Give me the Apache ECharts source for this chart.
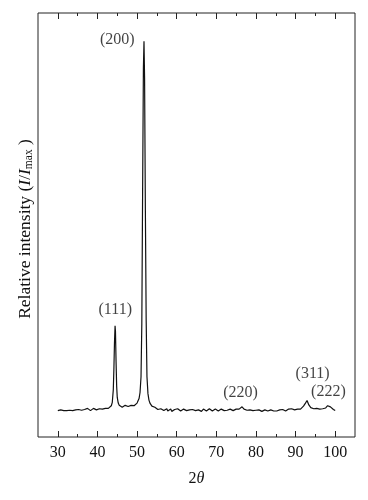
<!DOCTYPE html>
<html>
<head>
<meta charset="utf-8">
<script src="https://cdn.jsdelivr.net/npm/echarts@6/dist/echarts.min.js"></script>
<style>html,body{margin:0;padding:0;background:#fff}#c{width:368px;height:500px}</style>
</head>
<body>
<div id="c"></div>
<script>
// XRD pattern: [2θ (deg), relative intensity (% of Imax)]
const xrd = [
[30.00,2.0],[30.25,2.3],[30.50,1.8],[30.75,2.2],[31.00,1.9],[31.25,2.4],[31.50,2.0],[31.75,1.7],[32.00,2.2],[32.25,2.0],
[32.50,2.5],[32.75,1.9],[33.00,2.1],[33.25,1.8],[33.50,2.3],[33.75,2.0],[34.00,2.4],[34.25,1.9],[34.50,2.2],[34.75,2.6],
[35.00,2.0],[35.25,2.3],[35.50,1.9],[35.75,2.4],[36.00,2.1],[36.25,2.5],[36.50,2.0],[36.75,2.3],[37.00,1.9],[37.25,2.2],
[37.50,2.6],[37.75,2.1],[38.00,2.4],[38.25,2.0],[38.50,2.5],[38.75,2.2],[39.00,2.6],[39.25,2.1],[39.50,2.4],[39.75,2.2],
[40.00,2.7],[40.25,2.3],[40.50,2.5],[40.75,2.2],[41.00,2.6],[41.25,2.4],[41.50,2.8],[41.75,2.3],[42.00,2.6],[42.25,2.5],
[42.50,2.9],[42.75,2.6],[43.00,2.8],[43.25,3.0],[43.50,3.3],[43.75,4.2],[44.00,7.5],[44.15,13.0],[44.30,20.0],[44.45,24.5],
[44.55,23.0],[44.70,15.0],[44.85,8.5],[45.00,5.5],[45.25,4.0],[45.50,3.4],[45.75,3.1],[46.00,3.3],[46.25,2.9],[46.50,3.2],
[46.75,3.0],[47.00,3.4],[47.25,2.9],[47.50,3.3],[47.75,3.1],[48.00,3.5],[48.25,3.0],[48.50,3.4],[48.75,3.2],[49.00,3.6],
[49.25,3.3],[49.50,3.5],[49.75,3.8],[50.00,4.0],[50.25,4.4],[50.50,5.2],[50.75,6.8],[51.00,11.0],[51.20,25.0],[51.40,60.0],
[51.60,93.0],[51.75,100.0],[51.90,90.0],[52.10,55.0],[52.30,26.0],[52.50,11.0],[52.75,6.5],[53.00,4.8],[53.25,4.0],[53.50,3.5],
[53.75,3.2],[54.00,3.0],[54.25,2.7],[54.50,2.9],[54.75,2.5],[55.00,2.7],[55.25,2.3],[55.50,2.6],[55.75,2.2],[56.00,2.5],
[56.25,2.1],[56.50,2.4],[56.75,2.0],[57.00,2.3],[57.25,2.1],[57.50,2.5],[57.75,1.9],[58.00,2.2],[58.25,2.0],[58.50,2.4],
[58.75,1.8],[59.00,2.2],[59.25,2.0],[59.50,2.3],[59.75,1.9],[60.00,2.2],[60.25,2.5],[60.50,2.0],[60.75,2.3],[61.00,1.9],
[61.25,2.2],[61.50,2.0],[61.75,2.4],[62.00,2.1],[62.25,2.6],[62.50,2.0],[62.75,2.3],[63.00,1.9],[63.25,2.2],[63.50,2.5],
[63.75,2.0],[64.00,2.3],[64.25,1.9],[64.50,2.2],[64.75,2.0],[65.00,2.4],[65.25,1.9],[65.50,2.2],[65.75,2.0],[66.00,2.3],
[66.25,1.8],[66.50,2.1],[66.75,2.4],[67.00,2.0],[67.25,2.2],[67.50,1.9],[67.75,2.3],[68.00,2.0],[68.25,2.5],[68.50,2.1],
[68.75,2.3],[69.00,1.9],[69.25,2.2],[69.50,2.0],[69.75,2.4],[70.00,2.1],[70.25,2.3],[70.50,1.9],[70.75,2.2],[71.00,2.0],
[71.25,2.4],[71.50,2.1],[71.75,2.3],[72.00,2.0],[72.25,2.2],[72.50,2.5],[72.75,2.1],[73.00,2.3],[73.25,2.0],[73.50,2.4],
[73.75,2.1],[74.00,2.3],[74.25,2.0],[74.50,2.5],[74.75,2.2],[75.00,2.4],[75.25,2.1],[75.50,2.5],[75.75,2.4],[76.00,2.8],
[76.25,2.6],[76.50,3.0],[76.75,2.6],[77.00,2.4],[77.25,2.2],[77.50,2.5],[77.75,2.1],[78.00,2.3],[78.25,2.0],[78.50,2.2],
[78.75,1.9],[79.00,2.3],[79.25,2.0],[79.50,2.2],[79.75,1.8],[80.00,2.1],[80.25,2.3],[80.50,1.9],[80.75,2.2],[81.00,2.0],
[81.25,2.3],[81.50,1.8],[81.75,2.1],[82.00,1.9],[82.25,2.2],[82.50,2.0],[82.75,2.3],[83.00,1.9],[83.25,2.1],[83.50,1.8],
[83.75,2.2],[84.00,2.0],[84.25,2.3],[84.50,1.9],[84.75,2.1],[85.00,2.2],[85.25,1.9],[85.50,2.3],[85.75,2.0],[86.00,2.2],
[86.25,1.9],[86.50,2.1],[86.75,2.3],[87.00,2.0],[87.25,2.2],[87.50,1.9],[87.75,2.3],[88.00,2.1],[88.25,2.4],[88.50,2.0],
[88.75,2.2],[89.00,2.5],[89.25,2.1],[89.50,2.3],[89.75,2.2],[90.00,2.5],[90.25,2.2],[90.50,2.4],[90.75,2.3],[91.00,2.6],
[91.25,2.4],[91.50,2.7],[91.75,2.9],[92.00,3.2],[92.25,3.6],[92.50,4.0],[92.75,4.5],[92.90,4.7],[93.10,4.3],[93.35,3.5],
[93.60,3.0],[93.85,2.8],[94.10,2.6],[94.35,2.7],[94.60,2.5],[94.85,2.6],[95.10,2.4],[95.35,2.6],[95.60,2.3],[95.85,2.5],
[96.10,2.4],[96.35,2.6],[96.60,2.3],[96.85,2.5],[97.10,2.4],[97.35,2.6],[97.60,2.7],[97.85,3.0],[98.10,3.3],[98.35,3.6],
[98.55,3.4],[98.80,3.0],[99.05,2.7],[99.30,2.5],[99.55,2.3],[99.80,2.1],[100.00,2.0]
];
const peakNames = ['(200)','(111)','(220)','(311)','(222)'];
const peakLabelX = [45.0, 44.5, 76.1, 94.3, 98.3];
const peakLabelY = [100.5, 28.7, 6.8, 11.8, 7.0];
const majorTicks = [30,40,50,60,70,80,90,100];
const minorTicks = [35,45,55,65,75,85,95];

const FONT = '"Liberation Serif","Times New Roman",serif';
const chart = echarts.init(document.getElementById('c'));
function tickAxis(pos, vals, len, labels){
  return {
    type:'value', min:25, max:105, position:pos,
    splitLine:{show:false}, axisLine:{show:false, onZero:false},
    axisTick:{show:true, inside:true, length:len, customValues:vals, lineStyle:{color:'#222', width:1}},
    axisLabel: labels ? {show:true, customValues:vals, color:'#111', fontFamily:FONT, fontSize:16, margin:8} : {show:false}
  };
}
const xAxes = [
  Object.assign(tickAxis('bottom', majorTicks, 6, true), {
    name:'2{i|θ}', nameLocation:'middle', nameGap:34,
    nameTextStyle:{fontFamily:FONT, fontSize:16, color:'#111', rich:{i:{fontStyle:'italic', fontFamily:FONT, fontSize:16, color:'#111'}}}
  }),
  tickAxis('bottom', minorTicks, 3, false),
  tickAxis('top', majorTicks, 6, false),
  tickAxis('top', minorTicks, 3, false)
];
const labelData = peakNames.map((n,i)=>({name:n, value:[peakLabelX[i], peakLabelY[i]]}));
chart.setOption({
  animation:false,
  grid:{left:38, right:13, top:13, bottom:63, show:true, borderColor:'#222', borderWidth:1, backgroundColor:'transparent'},
  xAxis: xAxes,
  yAxis:{type:'value', min:-5, max:107.5, axisLine:{show:false, onZero:false}, axisTick:{show:false}, axisLabel:{show:false}, splitLine:{show:false},
    name:'Relative intensity ({i|I}/{i|I}{s|max} )', nameLocation:'middle', nameRotate:90, nameGap:3,
    nameTextStyle:{fontFamily:FONT, fontSize:17.5, color:'#111', padding:[0,8,0,0],
      rich:{i:{fontStyle:'italic', fontFamily:FONT, fontSize:17.5, color:'#111'}, s:{fontFamily:FONT, fontSize:11.5, color:'#111', padding:[7,0,0,0]}}}},
  series:[
    {type:'line', data:xrd, xAxisIndex:0, showSymbol:false, symbol:'none', lineStyle:{color:'#111', width:1.2}},
    {type:'scatter', data:labelData, xAxisIndex:0, symbolSize:0, silent:true,
      label:{show:true, position:'inside', formatter:'{b}', color:'#111', fontFamily:FONT, fontSize:16}}
  ]
});
</script>
</body>
</html>
